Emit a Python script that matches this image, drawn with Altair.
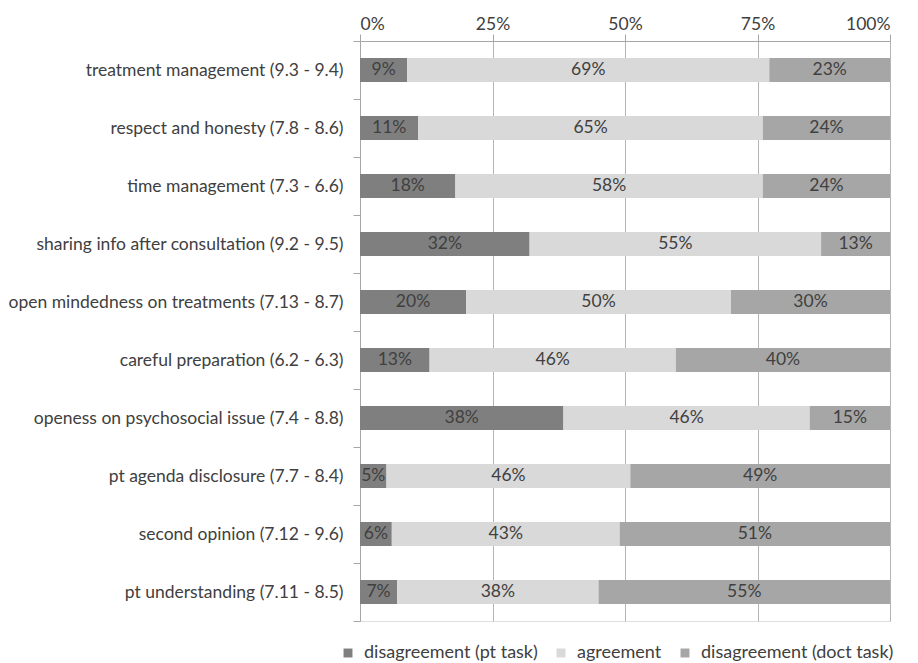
import altair as alt
import pandas as pd

categories = [
    "treatment management (9.3 - 9.4)",
    "respect and honesty (7.8 - 8.6)",
    "time management (7.3 - 6.6)",
    "sharing info after consultation (9.2 - 9.5)",
    "open mindedness on treatments (7.13 - 8.7)",
    "careful preparation (6.2 - 6.3)",
    "openess on psychosocial issue (7.4 - 8.8)",
    "pt agenda disclosure (7.7 - 8.4)",
    "second opinion (7.12 - 9.6)",
    "pt understanding (7.11 - 8.5)",
]
series = ["disagreement (pt task)", "agreement", "disagreement (doct task)"]
pt_task = [9, 11, 18, 32, 20, 13, 38, 5, 6, 7]
agreement = [69, 65, 58, 55, 50, 46, 46, 46, 43, 38]
doct_task = [23, 24, 24, 13, 30, 40, 15, 49, 51, 55]
colors = ["#7f7f7f", "#d9d9d9", "#a6a6a6"]

rows = []
for i, c in enumerate(categories):
    for j, (s, v) in enumerate(zip(series, [pt_task[i], agreement[i], doct_task[i]])):
        rows.append({"cat": c, "series": s, "order": j, "value": v})
df = pd.DataFrame(rows)

FONT = "Lato"
FS = 17.5
TXT = "#404040"

base = alt.Chart(df).transform_stack(
    stack="value", groupby=["cat"], as_=["x0", "x1"], offset="normalize",
    sort=[alt.SortField("order", order="ascending")]
).transform_calculate(
    mid="(datum.x0 + datum.x1) / 2",
    label="datum.value + '%'"
)

y_enc = alt.Y("cat:N", sort=categories, title=None,
              scale=alt.Scale(paddingInner=0, paddingOuter=0),
              axis=alt.Axis(tickBand="extent", ticks=True, tickSize=7,
                            tickColor="#a6a6a6", domainColor="#a6a6a6",
                            labelPadding=10, labelFont=FONT, labelFontSize=FS,
                            labelColor=TXT, grid=False, labelLimit=400))

bars = base.mark_bar(size=24).encode(
    x=alt.X("x0:Q", scale=alt.Scale(domain=[0, 1]),
            axis=alt.Axis(orient="top", format=".0%", values=[0, 0.25, 0.5, 0.75, 1],
                          tickSize=7, tickColor="#a6a6a6", domainColor="#a6a6a6",
                          gridColor="#b4b4b4", grid=True, labelPadding=1,
                          labelFont=FONT, labelFontSize=FS, labelColor=TXT,
                          title=None)),
    x2="x1:Q",
    y=y_enc,
    color=alt.Color("series:N", sort=series,
                    scale=alt.Scale(domain=series, range=colors),
                    legend=alt.Legend(title=None, orient="none", direction="horizontal",
                                      legendX=-21, legendY=603,
                                      symbolType="square", symbolSize=80,
                                      symbolStrokeWidth=0, labelFont=FONT,
                                      labelFontSize=18, labelColor=TXT,
                                      labelLimit=400,
                                      columnPadding=14, labelOffset=7)),
    order=alt.Order("order:Q"),
)

labels = base.mark_text(font=FONT, fontSize=FS, color=TXT).encode(
    x=alt.X("mid:Q"),
    y=alt.Y("cat:N", sort=categories),
    text="label:N",
)

chart = alt.layer(bars, labels).properties(
    width=530, height=580,
    autosize=alt.AutoSizeParams(type="none"),
    padding={"left": 360, "top": 41, "right": 28, "bottom": 42},
).configure_view(stroke=None).configure(background="white")

chart.save("out.html", embed_options={"renderer": "svg", "actions": False})
